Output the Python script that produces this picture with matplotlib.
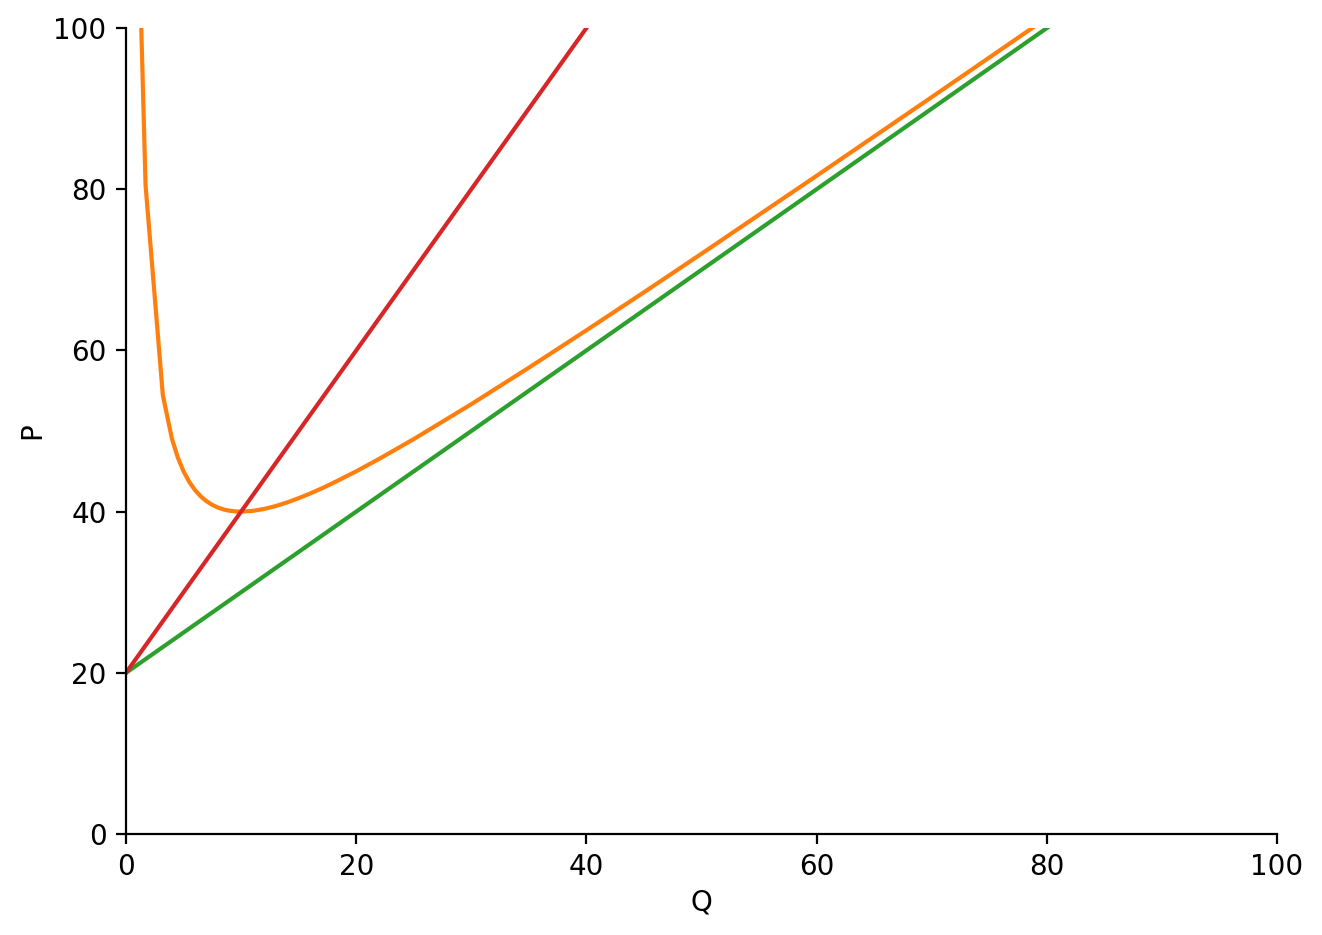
import matplotlib
matplotlib.use('Agg')
import matplotlib.pyplot as plt

# cost curves
atc_q = [1.1, 1.7, 3.2, 4, 4.5, 5, 5.5, 6, 6.5, 7, 7.5, 8, 8.5, 9, 9.5, 10,
         11, 12, 13, 14, 15, 16, 17, 18, 20, 22, 25, 30, 35, 40, 45, 50, 60, 70, 80]
atc_p = [112.0, 80.5, 54.45, 49.0, 46.72, 45.0, 43.68, 42.67, 41.88, 41.29, 40.83, 40.5,
         40.26, 40.11, 40.03, 40.0, 40.09, 40.33, 40.69, 41.14, 41.67, 42.25, 42.88, 43.56,
         45.0, 46.55, 49.0, 53.33, 57.86, 62.5, 67.22, 72.0, 81.67, 91.43, 101.25]

avc_q = [0, 100]
avc_p = [20, 120]

mc_q = [0, 50]
mc_p = [20, 120]

fig, ax = plt.subplots(figsize=(6.61, 4.675), dpi=200)
fig.subplots_adjust(left=0.0953, right=0.966, top=0.970, bottom=0.108)

ax.plot(atc_q, atc_p, color='tab:orange')
ax.plot(avc_q, avc_p, color='tab:green')
ax.plot(mc_q, mc_p, color='tab:red')

ax.set_xlim(0, 100)
ax.set_ylim(0, 100)
ax.set_xlabel('Q', labelpad=2.5)
ax.set_ylabel('P', labelpad=2.5)
ax.spines['top'].set_visible(False)
ax.spines['right'].set_visible(False)

fig.savefig('out.png', dpi=200)
